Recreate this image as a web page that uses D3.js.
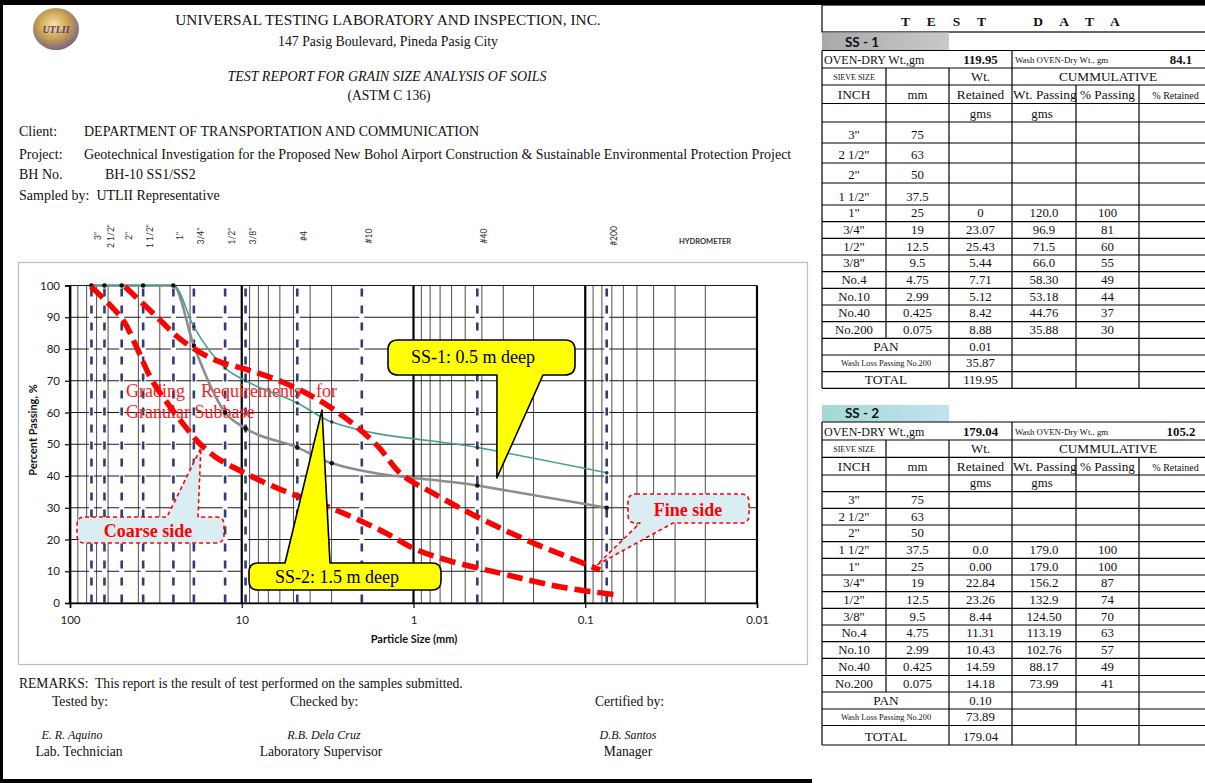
<!DOCTYPE html>
<html>
<head>
<meta charset="utf-8">
<script src="https://cdn.jsdelivr.net/npm/d3@7"></script>
<style>
  html, body { margin: 0; padding: 0; background: #fff; }
  svg { display: block; }
</style>
</head>
<body>
<svg id="page" width="1205" height="783"></svg>
<script>
// ---------------- Sieve data ----------------
const sieveInch = ['3"', '2 1/2"', '2"', '1 1/2"', '1"', '3/4"', '1/2"', '3/8"', 'No.4', 'No.10', 'No.40', 'No.200'];
const sieveMmText = ['75', '63', '50', '37.5', '25', '19', '12.5', '9.5', '4.75', '2.99', '0.425', '0.075'];
const sieveMm = [75, 63, 50, 37.5, 25, 19, 12.5, 9.5, 4.75, 2.99, 0.425, 0.075];

// percent passing plotted for each sample
const ss1Passing = [100, 100, 100, 100, 100, 81, 60, 55, 49, 44, 37, 30];
const ss2Passing = [100, 100, 100, 100, 100, 87, 74, 70, 63, 57, 49, 41];

// test data table, SS-1
const ss1Retained = ['', '', '', '', '0', '23.07', '25.43', '5.44', '7.71', '5.12', '8.42', '8.88'];
const ss1WtPassing = ['', '', '', '', '120.0', '96.9', '71.5', '66.0', '58.30', '53.18', '44.76', '35.88'];
const ss1Totals = { ovenDry: '119.95', washOvenDry: '84.1', pan: '0.01', washLoss: '35.87', total: '119.95' };

// test data table, SS-2
const ss2Retained = ['', '', '', '0.0', '0.00', '22.84', '23.26', '8.44', '11.31', '10.43', '14.59', '14.18'];
const ss2WtPassing = ['', '', '', '179.0', '179.0', '156.2', '132.9', '124.50', '113.19', '102.76', '88.17', '73.99'];
const ss2Totals = { ovenDry: '179.04', washOvenDry: '105.2', pan: '0.10', washLoss: '73.89', total: '179.04' };

// sieve reference lines drawn across the chart, with their labels
const guideMm = [75, 63, 50, 37.5, 25, 19, 12.5, 9.5, 4.75, 2.0, 0.425, 0.075];
const guideLabels = ['3"', '2 1/2"', '2"', '1 1/2"', '1"', '3/4"', '1/2"', '3/8"', '#4', '#10', '#40', '#200'];

// grading envelope for granular subbase: [size mm, % passing]
const envelopeFine = [[47.8, 99.6], [32, 90.7], [22.4, 82.8], [14.3, 76.5], [9.2, 73.4], [5.85, 69.7],
  [3.75, 64.6], [2.45, 58.0], [1.62, 49.5], [1.18, 40.6], [0.77, 34.6], [0.49, 28.8], [0.313, 23.6],
  [0.201, 18.9], [0.128, 14.6], [0.082, 10.4]];
const envelopeCoarse = [[75.4, 99.6], [50, 89.7], [40.5, 80], [34, 71], [28, 64], [22, 56.5], [18, 50.8],
  [14.3, 46.1], [10, 41.4], [5.85, 35.6], [2.99, 29.8], [1.53, 22.7], [0.98, 17.0], [0.61, 13.2],
  [0.313, 9.4], [0.201, 6.9], [0.128, 4.7], [0.066, 2.6]];

const xTickValues = [100, 10, 1, 0.1, 0.01];
const yTickValues = [0, 10, 20, 30, 40, 50, 60, 70, 80, 90, 100];

// ---------------- Page ----------------
const SERIF = '"Liberation Serif", "Times New Roman", serif';
const SANS = 'Lato, "Open Sans", sans-serif';
const svg = d3.select('#page');

function txt(parent, x, y, s, o = {}) {
  const t = parent.append('text')
    .attr('x', x).attr('y', y)
    .attr('font-family', o.family || SERIF)
    .attr('font-size', o.size || 12)
    .attr('fill', o.fill || '#111')
    .attr('text-anchor', o.anchor || 'start')
    .text(s);
  if (o.weight) t.attr('font-weight', o.weight);
  if (o.italic) t.attr('font-style', 'italic');
  if (o.ls) t.attr('letter-spacing', o.ls);
  if (o.pre) t.style('white-space', 'pre');
  return t;
}

// outer frame
svg.append('rect').attr('x', 0).attr('y', 0).attr('width', 1205).attr('height', 5).attr('fill', '#000');
svg.append('rect').attr('x', 0).attr('y', 0).attr('width', 3).attr('height', 783).attr('fill', '#000');
svg.append('rect').attr('x', 0).attr('y', 779).attr('width', 812).attr('height', 4).attr('fill', '#000');

// ---------------- Header ----------------
const defs = svg.append('defs');
const lg = defs.append('radialGradient').attr('id', 'globe').attr('cx', '45%').attr('cy', '40%').attr('r', '60%');
lg.append('stop').attr('offset', '0%').attr('stop-color', '#f6e6a8');
lg.append('stop').attr('offset', '55%').attr('stop-color', '#c9a24e');
lg.append('stop').attr('offset', '100%').attr('stop-color', '#7a6585');
svg.append('ellipse').attr('cx', 56).attr('cy', 29).attr('rx', 23).attr('ry', 21).attr('fill', 'url(#globe)');
txt(svg, 56, 33, 'UTLII', { size: 10, anchor: 'middle', fill: '#5b3a86', italic: true, weight: 'bold' });

const HB = 14;   // body size of the header block
txt(svg, 388, 25, 'UNIVERSAL TESTING LABORATORY AND INSPECTION, INC.', { size: 15.3, anchor: 'middle' });
txt(svg, 388, 46, '147 Pasig Boulevard, Pineda Pasig City', { size: 13.8, anchor: 'middle' });
txt(svg, 387, 81, 'TEST REPORT FOR GRAIN SIZE ANALYSIS OF SOILS', { size: 14, anchor: 'middle', italic: true });
txt(svg, 389, 100, '(ASTM C 136)', { size: 13.6, anchor: 'middle' });

txt(svg, 19, 136, 'Client:', { size: HB });
txt(svg, 84, 136, 'DEPARTMENT OF TRANSPORTATION AND COMMUNICATION', { size: HB });
txt(svg, 19, 159, 'Project:', { size: HB });
txt(svg, 84, 159, 'Geotechnical Investigation for the Proposed New Bohol Airport Construction & Sustainable Environmental Protection Project', { size: HB });
txt(svg, 19, 179, 'BH No.', { size: HB });
txt(svg, 105, 179, 'BH-10 SS1/SS2', { size: HB });
txt(svg, 19, 200, 'Sampled by:  UTLII Representative', { size: HB, pre: true });

// ---------------- Chart ----------------
svg.append('rect').attr('x', 18.5).attr('y', 262.5).attr('width', 789).attr('height', 402)
  .attr('fill', '#fff').attr('stroke', '#bdbdbd').attr('stroke-width', 1.2);

const plot = { left: 70, right: 757, top: 285.5, bottom: 603 };
const x = d3.scaleLog().domain([100, 0.01]).range([plot.left, plot.right]);
const y = d3.scaleLinear().domain([0, 100]).range([plot.bottom, plot.top]);
const chart = svg.append('g');

const isMajor = v => Math.abs(Math.log10(v) - Math.round(Math.log10(v))) < 1e-9;
const vTicks = x.ticks();

// minor log grid
chart.append('g').selectAll('line').data(vTicks.filter(v => !isMajor(v))).join('line')
  .attr('x1', d => x(d)).attr('x2', d => x(d)).attr('y1', plot.top).attr('y2', plot.bottom)
  .attr('stroke', '#3a3a3a').attr('stroke-width', 0.9);
// horizontal grid
chart.append('g').selectAll('line').data(yTickValues).join('line')
  .attr('x1', plot.left).attr('x2', plot.right).attr('y1', d => y(d)).attr('y2', d => y(d))
  .attr('stroke', '#1a1a1a').attr('stroke-width', 1);

// sieve reference lines (white halo + dashed)
const guides = chart.append('g');
guides.selectAll('line.halo').data(guideMm).join('line').attr('class', 'halo')
  .attr('x1', d => x(d)).attr('x2', d => x(d)).attr('y1', plot.top + 1).attr('y2', plot.bottom - 1)
  .attr('stroke', '#fff').attr('stroke-width', 5);
guides.selectAll('line.dash').data(guideMm).join('line').attr('class', 'dash')
  .attr('x1', d => x(d)).attr('x2', d => x(d)).attr('y1', plot.top + 3).attr('y2', plot.bottom)
  .attr('stroke', '#2e3f78').attr('stroke-width', 2.6).attr('stroke-dasharray', '8,9');

// major decade lines
chart.append('g').selectAll('line').data(vTicks.filter(isMajor)).join('line')
  .attr('x1', d => x(d)).attr('x2', d => x(d)).attr('y1', plot.top).attr('y2', plot.bottom)
  .attr('stroke', '#000').attr('stroke-width', 2.2);

// axes
const fmt = d => String(d);
const xAxis = chart.append('g').attr('transform', `translate(0,${plot.bottom})`)
  .call(d3.axisBottom(x).tickValues(xTickValues).tickFormat(fmt).tickSize(5).tickPadding(8));
const yAxis = chart.append('g').attr('transform', `translate(${plot.left},0)`)
  .call(d3.axisLeft(y).tickValues(yTickValues).tickSize(5).tickPadding(5));
[xAxis, yAxis].forEach(a => {
  a.select('.domain').attr('stroke', '#000').attr('stroke-width', 1.6);
  a.selectAll('.tick line').attr('stroke', '#000').attr('stroke-width', 1.2);
  a.selectAll('.tick text').attr('font-family', SANS).attr('font-size', 11.5).attr('fill', '#222');
});
txt(chart, 414, 643, 'Particle Size (mm)', { family: SANS, size: 11, weight: 'bold', anchor: 'middle' });
txt(chart, 0, 0, 'Percent Passing, %', { family: SANS, size: 11, weight: 'bold', anchor: 'middle' })
  .attr('transform', 'translate(37,430) rotate(-90)');

// sieve labels above the chart
const labelG = svg.append('g');
guideMm.forEach((d, i) => {
  labelG.append('text').attr('transform', `translate(${x(d) + 7},236) rotate(-90)`)
    .attr('text-anchor', 'middle').attr('dy', '0.35em')
    .attr('font-family', SANS).attr('font-size', 8.5).attr('fill', '#333').text(guideLabels[i]);
});
txt(svg, 705, 244, 'HYDROMETER', { family: SANS, size: 7.5, weight: 'bold', anchor: 'middle', fill: '#333' });

// red caption under the envelope
const redText = { size: 18, fill: '#ff1a1a' };
txt(chart, 126, 397, 'Grading', redText);
txt(chart, 201, 397, 'Requirements', redText);
txt(chart, 316, 397, 'for', redText);
txt(chart, 126, 418, 'Granular Subbase', redText);

// sample curves
const toPts = vals => sieveMm.map((d, i) => [x(d), y(vals[i])]);
const smooth = d3.line().curve(d3.curveMonotoneX);
chart.append('path').attr('d', smooth(toPts(ss1Passing)))
  .attr('fill', 'none').attr('stroke', '#8d8d8d').attr('stroke-width', 2.6);
chart.append('path').attr('d', smooth(toPts(ss2Passing)))
  .attr('fill', 'none').attr('stroke', '#4a9d95').attr('stroke-width', 1.6);
chart.append('g').selectAll('circle').data(toPts(ss2Passing)).join('circle')
  .attr('cx', d => d[0]).attr('cy', d => d[1]).attr('r', 1.8).attr('fill', '#333');
chart.append('g').selectAll('circle').data(toPts(ss1Passing)).join('circle')
  .attr('cx', d => d[0]).attr('cy', d => d[1]).attr('r', 2.3).attr('fill', '#111');

// grading envelope
const envLine = d3.line().x(d => x(d[0])).y(d => y(d[1])).curve(d3.curveCatmullRom.alpha(0.5));
[envelopeFine, envelopeCoarse].forEach(env => {
  chart.append('path').attr('d', envLine(env)).attr('fill', 'none')
    .attr('stroke', '#ff0000').attr('stroke-width', 5.5).attr('stroke-dasharray', '16,7');
});

// callouts
function calloutPath(b, side, bx1, bx2, tip, r) {
  const [x0, y0, x1, y1] = b;
  const [tx, ty] = tip;
  if (side === 'bottom') {
    return `M${x0 + r},${y0} H${x1 - r} Q${x1},${y0} ${x1},${y0 + r} V${y1 - r} Q${x1},${y1} ${x1 - r},${y1} ` +
      `H${bx2} L${tx},${ty} L${bx1},${y1} H${x0 + r} Q${x0},${y1} ${x0},${y1 - r} V${y0 + r} Q${x0},${y0} ${x0 + r},${y0} Z`;
  }
  return `M${x0 + r},${y0} H${bx1} L${tx},${ty} L${bx2},${y0} H${x1 - r} Q${x1},${y0} ${x1},${y0 + r} V${y1 - r} ` +
    `Q${x1},${y1} ${x1 - r},${y1} H${x0 + r} Q${x0},${y1} ${x0},${y1 - r} V${y0 + r} Q${x0},${y0} ${x0 + r},${y0} Z`;
}
const callouts = [
  { box: [388, 340, 575, 375], side: 'bottom', base: [497, 543], tip: [0.327, 39.4], r: 10,
    fill: '#ffff00', stroke: '#000', dash: null, text: 'SS-1: 0.5 m deep', tx: 411, ty: 363, anchor: 'start',
    color: '#000', weight: null },
  { box: [249, 563, 441, 590], side: 'top', base: [285, 330], tip: [3.41, 60.8], r: 9,
    fill: '#ffff00', stroke: '#000', dash: null, text: 'SS-2: 1.5 m deep', tx: 275, ty: 583, anchor: 'start',
    color: '#000', weight: null },
  { box: [77, 517, 224, 543], side: 'top', base: [167, 198], tip: [17.3, 48.8], r: 8,
    fill: '#daedf3', stroke: '#ff0000', dash: '4,3', text: 'Coarse side', tx: 148, ty: 537, anchor: 'middle',
    color: '#ff0000', weight: 'bold' },
  { box: [628, 494, 749, 523], side: 'bottom', base: [640, 673], tip: [0.0855, 12], r: 8,
    fill: '#daedf3', stroke: '#ff0000', dash: '4,3', text: 'Fine side', tx: 688, ty: 516, anchor: 'middle',
    color: '#ff0000', weight: 'bold' }
];
callouts.forEach(c => {
  const tip = [x(c.tip[0]), y(c.tip[1])];
  const p = chart.append('path').attr('d', calloutPath(c.box, c.side, c.base[0], c.base[1], tip, c.r))
    .attr('fill', c.fill).attr('stroke', c.stroke).attr('stroke-width', 1.6).attr('stroke-linejoin', 'round');
  if (c.dash) p.attr('stroke-dasharray', c.dash);
  txt(chart, c.tx, c.ty, c.text, { size: 18, anchor: c.anchor, fill: c.color, weight: c.weight });
});

// ---------------- Footer ----------------
const FB = 13.6;
txt(svg, 19, 688, 'REMARKS:  This report is the result of test performed on the samples submitted.', { size: FB, pre: true });
txt(svg, 52, 706, 'Tested by:', { size: FB });
txt(svg, 290, 706, 'Checked by:', { size: FB });
txt(svg, 595, 706, 'Certified by:', { size: FB });
txt(svg, 72, 739, 'E. R. Aquino', { size: 12, italic: true, anchor: 'middle' });
txt(svg, 79, 756, 'Lab. Technician', { size: FB, anchor: 'middle' });
txt(svg, 324, 739, 'R.B. Dela Cruz', { size: 12, italic: true, anchor: 'middle' });
txt(svg, 321, 756, 'Laboratory Supervisor', { size: FB, anchor: 'middle' });
txt(svg, 628, 739, 'D.B. Santos', { size: 12, italic: true, anchor: 'middle' });
txt(svg, 628, 756, 'Manager', { size: FB, anchor: 'middle' });

// ---------------- Test data tables ----------------
const cols = [822, 886, 949, 1012, 1076, 1139, 1212];
const mid = i => (cols[i] + cols[i + 1]) / 2;
const tbl = svg.append('g');
const TS = 12.8;

function hline(yv) {
  tbl.append('line').attr('x1', cols[0]).attr('x2', cols[6]).attr('y1', yv).attr('y2', yv)
    .attr('stroke', '#000').attr('stroke-width', 1.2);
}
function vlines(y0, y1, xs) {
  xs.forEach(xv => tbl.append('line').attr('x1', xv).attr('x2', xv).attr('y1', y0).attr('y2', y1)
    .attr('stroke', '#000').attr('stroke-width', 1.2));
}

// title row
tbl.append('rect').attr('x', cols[0]).attr('y', 5).attr('width', 390).attr('height', 27)
  .attr('fill', 'none').attr('stroke', '#000').attr('stroke-width', 1.2);
txt(tbl, 901, 26, 'T E S T    D A T A', { size: 13.5, weight: 'bold', ls: 6.8, pre: true });

const bandGray = defs.append('linearGradient').attr('id', 'bandGray');
bandGray.append('stop').attr('offset', '0%').attr('stop-color', '#a9a9a9');
bandGray.append('stop').attr('offset', '100%').attr('stop-color', '#c9c9c9');
const bandTeal = defs.append('linearGradient').attr('id', 'bandTeal');
bandTeal.append('stop').attr('offset', '0%').attr('stop-color', '#a3d9d2');
bandTeal.append('stop').attr('offset', '100%').attr('stop-color', '#c3e2f0');

function drawTable(name, bandY, bandFill, edges, retained, wtPassing, passing, totals) {
  tbl.append('rect').attr('x', cols[0]).attr('y', bandY).attr('width', cols[2] - cols[0])
    .attr('height', edges[0] - bandY).attr('fill', bandFill);
  txt(tbl, 862, edges[0] - 4, name, { size: 13.5, weight: 'bold', anchor: 'middle', family: SANS });

  edges.forEach(hline);
  const r = i => [edges[i], edges[i + 1]];
  const base = i => edges[i + 1] - 4.5;
  // outer verticals
  vlines(edges[0], edges[edges.length - 1], [cols[0], cols[6]]);
  // row 0: oven-dry weights
  vlines(...r(0), [cols[3]]);
  txt(tbl, 824, base(0), 'OVEN-DRY Wt.,gm', { size: 12 });
  txt(tbl, mid(2), base(0), totals.ovenDry, { size: TS, weight: 'bold', anchor: 'middle' });
  txt(tbl, 1015, base(0) - 1, 'Wash OVEN-Dry Wt., gm', { size: 8.8 });
  txt(tbl, 1181, base(0), totals.washOvenDry, { size: TS, weight: 'bold', anchor: 'middle' });
  // row 1
  vlines(...r(1), [cols[1], cols[2], cols[3]]);
  txt(tbl, mid(0), base(1) - 1, 'SIEVE SIZE', { size: 8, anchor: 'middle' });
  txt(tbl, mid(2), base(1), 'Wt.', { size: TS, anchor: 'middle' });
  txt(tbl, 1108, base(1), 'CUMMULATIVE', { size: 13.3, anchor: 'middle' });
  // row 2
  vlines(...r(2), [cols[1], cols[2], cols[3], cols[4], cols[5]]);
  txt(tbl, mid(0), base(2), 'INCH', { size: 13.3, anchor: 'middle' });
  txt(tbl, mid(1), base(2), 'mm', { size: TS, anchor: 'middle' });
  txt(tbl, mid(2), base(2), 'Retained', { size: 13.3, anchor: 'middle' });
  txt(tbl, 1013, base(2), 'Wt. Passing', { size: 13.3 });
  txt(tbl, mid(4), base(2), '% Passing', { size: 13.3, anchor: 'middle' });
  txt(tbl, mid(5), base(2), '% Retained', { size: 10, anchor: 'middle' });
  // row 3
  vlines(...r(3), [cols[1], cols[2], cols[3], cols[4], cols[5]]);
  txt(tbl, mid(2), base(3), 'gms', { size: TS, anchor: 'middle' });
  txt(tbl, 1042, base(3), 'gms', { size: TS, anchor: 'middle' });
  // sieve rows
  sieveInch.forEach((s, k) => {
    const i = 4 + k;
    vlines(...r(i), [cols[1], cols[2], cols[3], cols[4], cols[5]]);
    txt(tbl, mid(0), base(i), s, { size: TS, anchor: 'middle' });
    txt(tbl, mid(1), base(i), sieveMmText[k], { size: TS, anchor: 'middle' });
    txt(tbl, mid(2), base(i), retained[k], { size: TS, anchor: 'middle' });
    txt(tbl, mid(3), base(i), wtPassing[k], { size: TS, anchor: 'middle' });
    txt(tbl, mid(4), base(i), retained[k] === '' ? '' : String(passing[k]), { size: TS, anchor: 'middle' });
  });
  // totals rows
  const n = 4 + sieveInch.length;
  [['PAN', totals.pan, 13.3], ['Wash Loss Passing No.200', totals.washLoss, 8.3], ['TOTAL', totals.total, 13.3]]
    .forEach(([label, val, sz], k) => {
      const i = n + k;
      vlines(...r(i), [cols[2], cols[3], cols[4], cols[5]]);
      txt(tbl, cols[1], base(i) - (sz < 10 ? 1 : 0), label, { size: sz, anchor: 'middle' });
      txt(tbl, mid(2), base(i), val, { size: TS, anchor: 'middle' });
    });
}

const edges1 = [50.5, 68, 85, 103.5, 122, 143, 163, 183, 205, 221.7, 238.3, 255, 271.7, 288.3, 305,
  321.7, 338.3, 355, 371.7, 388.3];
const edges2 = [422, 440, 457.3, 475, 491.7, 508.3, 525, 541.7, 558.3, 575, 591.7, 608.3, 625, 641.7,
  658.3, 675.5, 692, 709, 725.5, 745];
drawTable('SS - 1', 32.5, 'url(#bandGray)', edges1, ss1Retained, ss1WtPassing, ss1Passing, ss1Totals);
drawTable('SS - 2', 405, 'url(#bandTeal)', edges2, ss2Retained, ss2WtPassing, ss2Passing, ss2Totals);
</script>
</body>
</html>
